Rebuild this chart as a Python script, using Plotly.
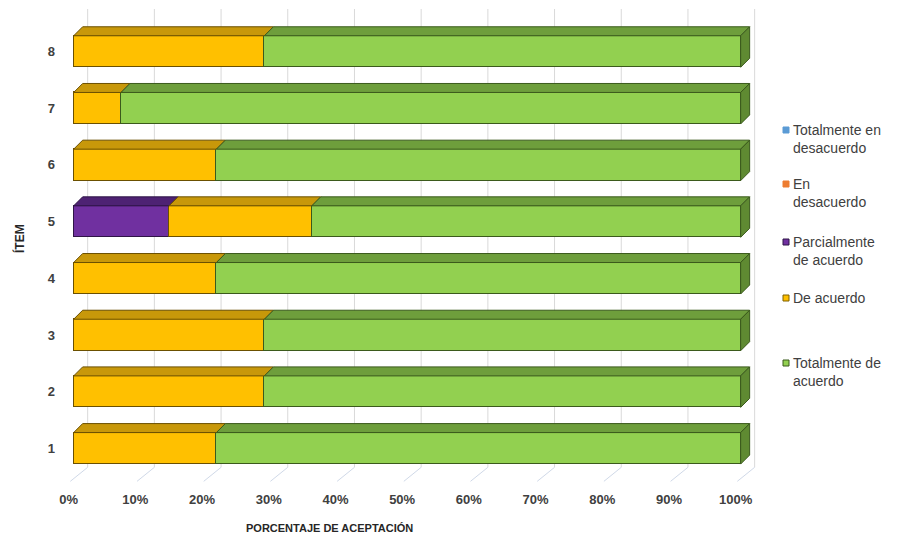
import plotly.graph_objects as go

# ---------------- data ----------------
items = [1, 2, 3, 4, 5, 6, 7, 8]
series_names = ["Totalmente en<br>desacuerdo", "En<br>desacuerdo", "Parcialmente<br>de acuerdo",
                "De acuerdo", "Totalmente de<br>acuerdo"]
tot_desacuerdo = [0, 0, 0, 0, 0, 0, 0, 0]
en_desacuerdo = [0, 0, 0, 0, 0, 0, 0, 0]
parcial_acuerdo = [0, 0, 0, 0, 14.3, 0, 0, 0]
de_acuerdo = [21.4, 28.6, 28.6, 21.4, 21.4, 21.4, 7.1, 28.6]
tot_acuerdo = [78.6, 71.4, 71.4, 78.6, 64.3, 78.6, 92.9, 71.4]
x_ticks = [0, 10, 20, 30, 40, 50, 60, 70, 80, 90, 100]
x_tick_labels = [f"{v}%" for v in x_ticks]

series_values = [tot_desacuerdo, en_desacuerdo, parcial_acuerdo, de_acuerdo, tot_acuerdo]

# ---------------- styles ----------------
front_colors = ["#5B9BD5", "#ED7D31", "#7030A0", "#FFC000", "#92D050"]
top_colors = ["#41719C", "#AE5A21", "#4E2273", "#C8980A", "#6E9E3C"]
side_colors = ["#41719C", "#AE5A21", "#4E2273", "#B8890A", "#5F8A32"]
edge_colors = ["#2E5174", "#7A3F17", "#2F1546", "#6B5000", "#3B5A1C"]
legend_colors = front_colors
legend_edges = [None, None, "#2F1546", "#7F6000", "#3B5A1C"]
FONT = "Arial, Liberation Sans"

W, H = 904, 538
ml, mr, mt, mb = 67, 136, 9, 50
xr = [-1, 104.1]
yr = [0.3, 8.75]
px_per_x = (W - ml - mr) / (xr[1] - xr[0])
px_per_y = (H - mt - mb) / (yr[1] - yr[0])
depth_px = 9
dx = depth_px / px_per_x
dy = depth_px / px_per_y
bar_w = 0.555
grid_off = 14 / px_per_x

fig = go.Figure()

# back-wall grid lines and floor lines
shapes = []
floor_back_y = 1 - (467 - 448) / px_per_y
floor_front_y = 1 - (481 - 448) / px_per_y
for v in x_ticks:
    shapes.append(dict(type="line", xref="x", yref="y", x0=v + grid_off, x1=v + grid_off,
                       y0=floor_back_y, y1=yr[1], line=dict(color="#D9D9D9", width=1), layer="below"))
    shapes.append(dict(type="line", xref="x", yref="y", x0=v - 0.5, x1=v + grid_off,
                       y0=floor_front_y, y1=floor_back_y, line=dict(color="#D0D9E8", width=1), layer="below"))

# front faces
for i, vals in enumerate(series_values):
    fig.add_trace(go.Bar(
        y=items, x=vals, orientation="h", width=bar_w, name=series_names[i],
        marker=dict(color=front_colors[i], line=dict(color=edge_colors[i], width=1)),
        showlegend=False, hoverinfo="skip"))

# top faces and right side faces
cum = [0.0] * len(items)
last_nonzero = []
for j in range(len(items)):
    idx = max(k for k in range(len(series_values)) if series_values[k][j] > 0)
    last_nonzero.append(idx)

for i, vals in enumerate(series_values):
    tx, ty, sx, sy = [], [], [], []
    for j, y in enumerate(items):
        x0 = cum[j]
        x1 = cum[j] + vals[j]
        if vals[j] > 0:
            yt = y + bar_w / 2
            yb = y - bar_w / 2
            tx += [x0, x1, x1 + dx, x0 + dx, x0, None]
            ty += [yt, yt, yt + dy, yt + dy, yt, None]
            if last_nonzero[j] == i:
                sx += [x1, x1 + dx, x1 + dx, x1, x1, None]
                sy += [yb, yb + dy, yt + dy, yt, yb, None]
        cum[j] = x1
    if tx:
        fig.add_trace(go.Scatter(x=tx, y=ty, mode="lines", fill="toself", fillcolor=top_colors[i],
                                 line=dict(color=edge_colors[i], width=1), showlegend=False,
                                 hoverinfo="skip"))
    if sx:
        fig.add_trace(go.Scatter(x=sx, y=sy, mode="lines", fill="toself", fillcolor=side_colors[i],
                                 line=dict(color=edge_colors[i], width=1), showlegend=False,
                                 hoverinfo="skip"))

# manual legend
legend_rows_px = [130, 184, 242, 298, 363]
annotations = []
plot_h = H - mt - mb
plot_w = W - ml - mr
for i, name in enumerate(series_names):
    cy = legend_rows_px[i]
    py = (H - mb - cy) / plot_h
    sx0 = (783 - ml) / plot_w
    sx1 = (789 - ml) / plot_w
    half = 3 / plot_h
    shapes.append(dict(type="rect", xref="paper", yref="paper", x0=sx0, x1=sx1, y0=py - half, y1=py + half,
                       fillcolor=legend_colors[i],
                       line=dict(color=legend_edges[i] or legend_colors[i], width=1)))
    annotations.append(dict(xref="paper", yref="paper", x=(791 - ml) / plot_w, y=(H - mb - (cy - 10)) / plot_h,
                            xanchor="left", yanchor="top", align="left", showarrow=False, text=name,
                            font=dict(family=FONT, size=14, color="#404040")))

# axis titles
annotations.append(dict(xref="paper", yref="paper", x=(329 - ml) / plot_w, y=(H - mb - 528) / plot_h,
                        xanchor="center", yanchor="middle", showarrow=False, text="PORCENTAJE DE ACEPTACIÓN",
                        font=dict(family=FONT, size=11, color="#262626", weight="bold")))
annotations.append(dict(xref="paper", yref="paper", x=(19 - ml) / plot_w, y=(H - mb - 239) / plot_h,
                        xanchor="center", yanchor="middle", showarrow=False, text="ÍTEM", textangle=-90,
                        font=dict(family=FONT, size=12, color="#262626", weight="bold")))

fig.update_layout(
    width=W, height=H, barmode="stack", bargap=0,
    margin=dict(l=ml, r=mr, t=mt, b=mb, pad=0),
    paper_bgcolor="white", plot_bgcolor="white",
    showlegend=False, shapes=shapes, annotations=annotations,
    xaxis=dict(range=xr, tickvals=x_ticks, ticktext=x_tick_labels, showgrid=False, zeroline=False,
               showline=False, ticks="", ticklabelshift=-5, ticklabelstandoff=2, fixedrange=True,
               tickfont=dict(family=FONT, size=13, color="#404040", weight="bold")),
    yaxis=dict(range=yr, tickvals=items, ticktext=[str(v) for v in items], showgrid=False, zeroline=False,
               showline=False, ticks="", ticklabelstandoff=11, fixedrange=True,
               tickfont=dict(family=FONT, size=13, color="#404040", weight="bold")),
)

fig.write_html("out.html")
